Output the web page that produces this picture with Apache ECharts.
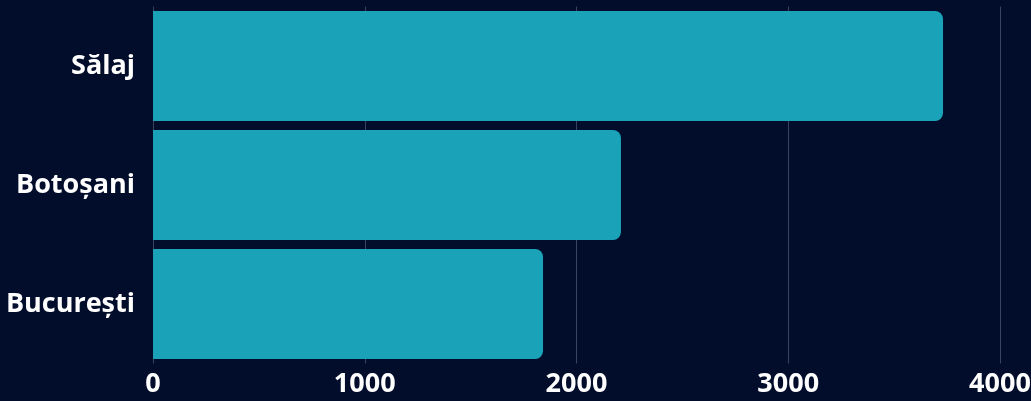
<!DOCTYPE html>
<html>
<head>
    <meta charset="utf-8"/>
    <title>Bar chart</title>
    <script src="https://cdn.jsdelivr.net/npm/echarts@6/dist/echarts.min.js"></script>
    <style>
        html, body { margin: 0; padding: 0; background: #020d2c; }
        #main { width: 1031px; height: 401px; }
    </style>
</head>
<body>
<div id="main"></div>
<script>
    // data
    let categories = ['București', 'Botoșani', 'Sălaj'];
    let values = [1842, 2210, 3731];
    let xTicks = [0, 1000, 2000, 3000, 4000];

    let myChart = echarts.init(document.getElementById('main'));
    let option = {
        backgroundColor: '#020d2c',
        grid: { left: 153, right: 31, top: 6.5, bottom: 37.5, outerBoundsMode: 'none' },
        xAxis: {
            type: 'value',
            min: xTicks[0],
            max: xTicks[xTicks.length - 1],
            interval: 1000,
            axisLine: { show: false },
            axisTick: { show: false },
            splitLine: { lineStyle: { color: '#38435e', width: 1 } },
            axisLabel: {
                color: '#ffffff',
                fontFamily: 'Open Sans',
                fontWeight: 'bold',
                fontSize: 27,
                margin: 7,
                formatter: function (v) { return String(v); }
            }
        },
        yAxis: {
            type: 'category',
            data: categories,
            axisLine: { show: false },
            axisTick: { show: false },
            axisLabel: {
                color: '#ffffff',
                fontFamily: 'Open Sans',
                fontWeight: 'bold',
                fontSize: 27,
                margin: 18
            }
        },
        series: [{
            type: 'bar',
            data: values,
            barCategoryGap: '7.6%',
            itemStyle: { color: '#1aa3b8', borderRadius: [0, 8, 8, 0] }
        }]
    };
    myChart.setOption(option);
</script>
</body>
</html>
